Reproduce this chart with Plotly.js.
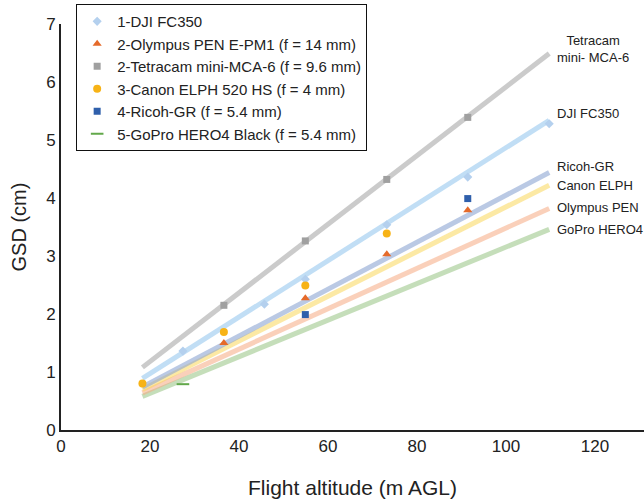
<!DOCTYPE html>
<html>
<head>
<meta charset="utf-8">
<script src="https://cdn.plot.ly/plotly-3.0.1.min.js"></script>
<style>html,body{margin:0;padding:0;background:#fff;}#chart{width:644px;height:499px;}</style>
</head>
<body>
<div id="chart"></div>
<script>
// Flight altitudes (m AGL) of the measured points
var altDJI = [27.4, 45.7, 54.9, 73.2, 91.4, 109.7];
var gsdDJI = [1.36, 2.17, 2.60, 3.54, 4.36, 5.28];

var altOlympus = [36.6, 54.9, 73.2, 91.4];
var gsdOlympus = [1.50, 2.27, 3.03, 3.79];

var altTetracam = [36.6, 54.9, 73.2, 91.4];
var gsdTetracam = [2.15, 3.26, 4.32, 5.39];

var altCanon = [18.3, 36.6, 54.9, 73.2];
var gsdCanon = [0.80, 1.69, 2.49, 3.39];

var altRicoh = [54.9, 91.4];
var gsdRicoh = [1.99, 3.99];

var altGoPro = [27.4];
var gsdGoPro = [0.79];

// Theoretical GSD lines (start/end altitude and values)
var lineAlt = [18.3, 109.7];
var lineTetracam = [1.08, 6.49];
var lineDJI = [0.89, 5.34];
var lineRicoh = [0.74, 4.44];
var lineCanon = [0.70, 4.22];
var lineOlympus = [0.64, 3.82];
var lineGoPro = [0.58, 3.46];

var legendNames = [
  "1-DJI FC350",
  "2-Olympus PEN E-PM1 (f = 14 mm)",
  "2-Tetracam mini-MCA-6 (f = 9.6 mm)",
  "3-Canon ELPH 520 HS (f = 4 mm)",
  "4-Ricoh-GR (f = 5.4 mm)",
  "5-GoPro HERO4 Black (f = 5.4 mm)"
];

var lineLabels = ["Tetracam<br>mini- MCA-6", "DJI FC350", "Ricoh-GR", "Canon ELPH", "Olympus PEN", "GoPro HERO4"];
var labelY = [6.57, 5.45, 4.54, 4.22, 3.83, 3.45];

function lineTrace(y, color) {
  return {x: lineAlt, y: y, mode: 'lines', line: {color: color, width: 5},
          showlegend: false, hoverinfo: 'skip'};
}

var traces = [
  lineTrace(lineGoPro, 'rgba(150,195,130,0.55)'),
  lineTrace(lineOlympus, 'rgba(246,170,130,0.55)'),
  lineTrace(lineCanon, 'rgba(250,215,90,0.55)'),
  lineTrace(lineRicoh, 'rgba(140,165,210,0.6)'),
  lineTrace(lineDJI, 'rgba(160,205,240,0.65)'),
  lineTrace(lineTetracam, 'rgba(175,175,175,0.65)'),
  {x: altDJI, y: gsdDJI, mode: 'markers', name: legendNames[0],
   marker: {symbol: 'diamond', size: 7, color: '#b4d0ee'}},
  {x: altOlympus, y: gsdOlympus, mode: 'markers', name: legendNames[1],
   marker: {symbol: 'triangle-up', size: 8, color: '#e56a2a'}},
  {x: altTetracam, y: gsdTetracam, mode: 'markers', name: legendNames[2],
   marker: {symbol: 'square', size: 7, color: '#a0a0a0'}},
  {x: altCanon, y: gsdCanon, mode: 'markers', name: legendNames[3],
   marker: {symbol: 'circle', size: 8, color: '#f7b316'}},
  {x: altRicoh, y: gsdRicoh, mode: 'markers', name: legendNames[4],
   marker: {symbol: 'square', size: 7, color: '#2f5fab'}},
  {x: altGoPro, y: gsdGoPro, mode: 'markers', name: legendNames[5],
   marker: {symbol: 'line-ew', size: 9, color: '#62a84a', line: {color: '#62a84a', width: 2}}}
];

var annotations = lineLabels.map(function (t, i) {
  return {x: i === 0 ? 119.5 : 111.0, y: labelY[i], xref: 'x', yref: 'y', text: t,
          showarrow: false, xanchor: i === 0 ? 'center' : 'left', yanchor: 'middle',
          align: 'center', font: {family: 'Liberation Sans, Arial, sans-serif', size: 13, color: '#222'}};
});

var layout = {
  width: 644, height: 499,
  margin: {l: 61, r: 0, t: 24, b: 69},
  paper_bgcolor: '#fff', plot_bgcolor: '#fff',
  font: {family: 'Liberation Sans, Arial, sans-serif', color: '#222'},
  showlegend: true,
  legend: {x: 0.026, y: 1.049, xanchor: 'left', yanchor: 'top', bgcolor: '#fff',
           bordercolor: '#111', borderwidth: 1, itemwidth: 30,
           font: {size: 15, color: '#222', family: 'Liberation Sans, Arial, sans-serif'},
           tracegroupgap: 0},
  xaxis: {range: [0, 131], tickvals: [0, 20, 40, 60, 80, 100, 120], showgrid: false, zeroline: false,
          showline: true, linecolor: '#222', linewidth: 2, ticks: '', tickfont: {size: 17},
          title: {text: 'Flight altitude (m AGL)', font: {size: 21}, standoff: 25}},
  yaxis: {range: [0, 7], dtick: 1, showgrid: false, zeroline: false,
          showline: true, linecolor: '#222', linewidth: 2, ticks: '', tickfont: {size: 17},
          title: {text: 'GSD (cm)', font: {size: 20}, standoff: 14}},
  annotations: annotations,
  hovermode: false
};

Plotly.newPlot('chart', traces, layout, {displayModeBar: false, staticPlot: true});
</script>
</body>
</html>
